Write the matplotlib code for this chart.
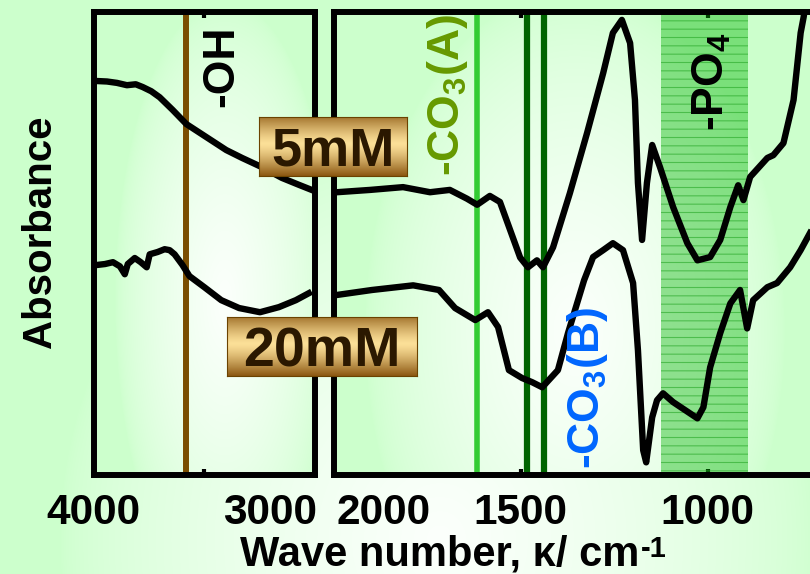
import numpy as np
import matplotlib.pyplot as plt

plt.rcParams['font.family'] = ['Liberation Sans', 'DejaVu Sans']
plt.rcParams['font.weight'] = 'bold'
plt.rcParams['mathtext.fontset'] = 'custom'
plt.rcParams['mathtext.rm'] = 'Liberation Sans:bold'
plt.rcParams['mathtext.it'] = 'Liberation Sans:bold'
plt.rcParams['mathtext.bf'] = 'Liberation Sans:bold'
plt.rcParams['mathtext.default'] = 'rm'
plt.rcParams['hatch.linewidth'] = 0.8

# high wavenumber region (OH stretch), 4000 -> 2000 cm-1
wn_oh_5mM = [3970, 3880, 3790, 3700, 3620, 3557, 3480, 3404, 3288, 3162,
             2982, 2802, 2659, 2479, 2300, 2146, 2030]
abs_oh_5mM = [85.1, 85.0, 84.7, 84.2, 84.4, 83.8, 82.9, 81.6, 78.9, 75.8,
              73.0, 70.2, 68.5, 66.5, 64.2, 62.7, 61.6]
wn_oh_20mM = [3970, 3898, 3826, 3763, 3719, 3692, 3629, 3575, 3521, 3494,
              3422, 3359, 3314, 3269, 3198, 3135, 3000, 2847, 2686, 2497,
              2326, 2173, 2056]
abs_oh_20mM = [45.4, 45.6, 46.0, 45.1, 43.4, 45.6, 46.9, 46.0, 44.9, 47.7,
               48.2, 48.8, 48.6, 47.7, 45.4, 43.0, 40.6, 37.8, 36.1, 35.2,
               36.3, 37.8, 39.3]

# fingerprint region, 2000 -> 726 cm-1
wn_fp_5mM = [1991, 1902, 1814, 1742, 1689, 1643, 1616, 1582, 1555, 1528,
             1501, 1480, 1456, 1440, 1413, 1368, 1322, 1279, 1253, 1229,
             1207, 1194, 1186, 1175, 1162, 1148, 1127, 1092, 1054, 1027,
             993, 966, 939, 918, 904, 886, 840, 824, 797, 770, 751, 743, 736]
abs_fp_5mM = [61.1, 61.6, 62.2, 61.1, 61.6, 59.7, 58.4, 60.3, 59.0, 53.0,
              47.0, 44.9, 46.4, 44.9, 49.2, 60.9, 73.9, 86.8, 95.5, 98.3,
              93.3, 81.0, 63.1, 50.8, 63.1, 71.3, 66.5, 57.9, 50.1, 46.4,
              47.1, 50.8, 57.9, 62.6, 59.4, 64.4, 68.5, 69.1, 71.7, 81.0,
              95.5, 98.9, 103.0]
wn_fp_20mM = [1993, 1897, 1787, 1718, 1675, 1621, 1587, 1560, 1531, 1496,
              1469, 1442, 1400, 1373, 1330, 1306, 1279, 1253, 1226, 1199,
              1186, 1172, 1164, 1148, 1135, 1119, 1092, 1027, 1011, 993,
              966, 939, 913, 894, 878, 840, 814, 779, 751, 726]
abs_fp_20mM = [38.9, 40.0, 41.0, 40.0, 36.1, 33.5, 35.2, 32.0, 22.7, 21.0,
               20.1, 19.0, 22.7, 30.7, 42.1, 47.1, 48.6, 50.1, 48.6, 41.5,
               27.0, 5.4, 2.8, 12.5, 16.2, 17.7, 15.8, 12.3, 14.7, 23.3,
               30.7, 37.1, 40.0, 31.7, 37.8, 40.6, 41.5, 44.9, 48.6, 52.3]

band_oh = 3170
band_co3a = 1615
band_co3b = [1482, 1437]
band_po4 = (1124, 893)

W, H = 810, 574
fig = plt.figure(figsize=(W / 100, H / 100), dpi=100)

# soft green background with white glow behind each panel
yy, xx = np.mgrid[0:H, 0:W] + 0.5


def glow(cx, cy, rx, ry):
    d = np.hypot((xx - cx) / rx, (yy - cy) / ry)
    return np.clip(1 - d, 0, 1) ** 0.6


w = glow(440, 540, 380, 420)
in_left = (xx >= 94) & (xx <= 315) & (yy >= 12) & (yy <= 475)
in_right = (xx >= 333) & (yy >= 12) & (yy <= 475)
w = np.where(in_left, glow(225, 300, 110, 300), w)
w = np.where(in_right, glow(575, 330, 210, 340), w)
green = np.array([204, 255, 204]) / 255
white = np.array([252, 255, 252]) / 255
bg = fig.add_axes([0, 0, 1, 1], zorder=-5)
bg.imshow(green + (white - green) * w[..., None], aspect='auto')
bg.axis('off')

ax1 = fig.add_axes([93.7 / W, 1 - 475.3 / H, (315 - 93.7) / W, (475.3 - 12) / H])
ax2 = fig.add_axes([333.5 / W, 1 - 475.3 / H, 1 - 333.5 / W, (475.3 - 12) / H])
ax1.set_xlim(4000, 2000)
ax2.set_xlim(2000, 726)
ax2.spines['right'].set_visible(False)

for ax in (ax1, ax2):
    ax.set_facecolor('none')
    ax.set_ylim(0, 100)
    ax.set_yticks([])
    for s in ax.spines.values():
        s.set_linewidth(4.3)
    ax.tick_params(axis='x', direction='in', length=4.5, width=3,
                   top=True, bottom=True, labelbottom=False)

ax1.set_xticks([4000, 3000])
ax2.set_xticks([2000, 1500, 1000])

# tick labels (3000 and 2000 sit shifted right, as in the original)
tick_texts = [(ax1, 4000, 0), (ax1, 3000, 47), (ax2, 2000, 36),
              (ax2, 1500, 0), (ax2, 1000, 0)]
for ax, val, dx in tick_texts:
    ax.annotate(str(val), xy=(val, 0), xycoords=('data', 'axes fraction'),
                xytext=(dx, -12.4), textcoords='offset points',
                ha='center', va='top', fontsize=30.5, annotation_clip=False)

# band markers
ax1.axvline(band_oh, color='#7a4e00', lw=4.3, zorder=2)
ax2.axvline(band_co3a, color='#33cc33', lw=4, zorder=2)
for b in band_co3b:
    ax2.axvline(b, color='#006400', lw=4.5, zorder=2)
ax2.axvspan(*band_po4, facecolor=(0, 0.7, 0, 0.4),
            edgecolor=(0.15, 0.65, 0.15, 0.6), hatch='--', lw=0, zorder=2)

# spectra
kw = dict(color='black', lw=4.6, zorder=4, solid_joinstyle='round')
ax1.plot(wn_oh_5mM, abs_oh_5mM, **kw)
ax1.plot(wn_oh_20mM, abs_oh_20mM, **kw)
ax2.plot(wn_fp_5mM, abs_fp_5mM, **kw)
ax2.plot(wn_fp_20mM, abs_fp_20mM, **kw)

# band labels
lab = dict(rotation=90, rotation_mode='anchor', ha='center',
           va='center_baseline', fontsize=32, zorder=5)
ax1.text(2882, 88.3, '-OH', color='black', **lab)
ax2.text(1710, 82.0, '-CO$_3$(A)', color='#669900', **lab)
ax2.text(1001, 85.0, '-PO$_4$', color='black', **lab)
ax2.text(1336, 18.9, '-CO$_3$(B)', color='#0066ff', **lab)

# axis titles (the -1 exponent is a separate small text after the unit)
xlab = fig.text(440 / W, 1 - 565 / H, 'Wave number, κ/ cm', ha='center',
                va='baseline', fontsize=30)
bg.annotate('-1', xy=(1, 1), xycoords=xlab, xytext=(1, -0.5),
            textcoords='offset points', ha='left', va='top', fontsize=21)
fig.text(40 / W, 1 - 232 / H, 'Absorbance', rotation=90, ha='center',
         va='center', fontsize=29)


# concentration tags with a metallic brown gradient
def tag(x0, y0, x1, y1, text, size):
    bax = fig.add_axes([x0 / W, 1 - y1 / H, (x1 - x0) / W, (y1 - y0) / H], zorder=6)
    t = np.linspace(0, 1, 80)
    k = (np.abs(t - 0.45) / 0.55) ** 1.3
    dark = np.array([140, 88, 18]) / 255
    light = np.array([252, 224, 152]) / 255
    col = light + (dark - light) * k[:, None]
    bax.imshow(np.repeat(col[:, None, :], 4, axis=1), aspect='auto',
               extent=[0, 1, 0, 1])
    bax.set_xticks([])
    bax.set_yticks([])
    for s in bax.spines.values():
        s.set_color('#6b4300')
        s.set_linewidth(0.8)
    bax.text(0.5, 0.5, text, ha='center', va='center_baseline', fontsize=size,
             color='#2b1800', transform=bax.transAxes)


tag(259, 117, 407, 176, '5mM', 39)
tag(227, 317, 417, 376, '20mM', 40)

fig.savefig('out.png', dpi=100)
